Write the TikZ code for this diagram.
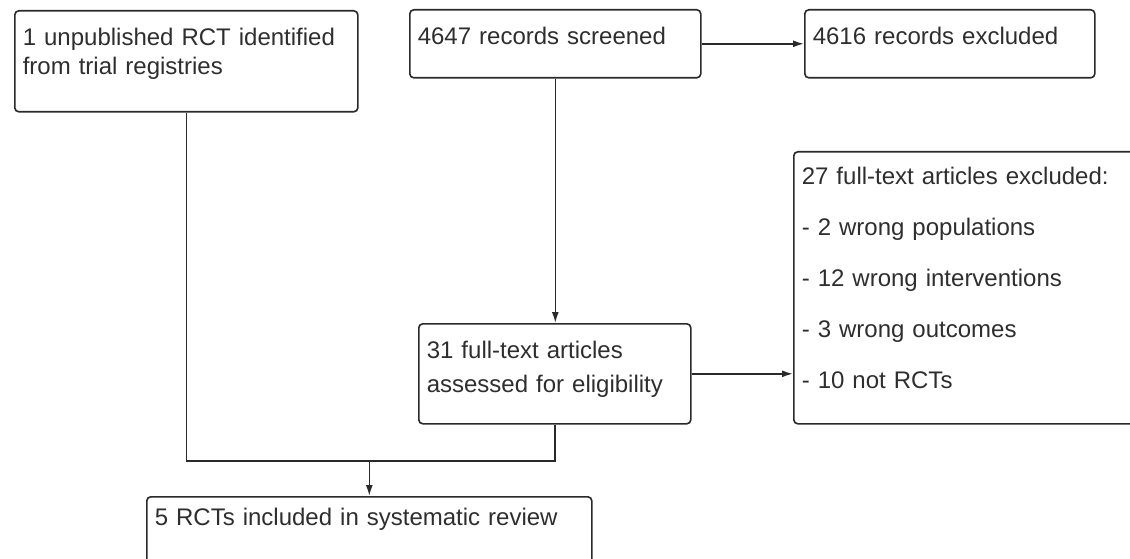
\documentclass[tikz,border=0pt]{standalone}
\usepackage{fontspec}
\setmainfont{Liberation Sans}
\usepackage{tikz}
\usetikzlibrary{arrows.meta,calc}
\definecolor{prline}{HTML}{2A2A2A}
\definecolor{prtext}{HTML}{2E2E2E}
\tikzset{
  box/.style={draw=prline,line width=1.6pt,rounded corners=4pt,anchor=north west,align=left,
    inner xsep=8pt,inner ysep=0pt,text height=35pt,text=prtext,font=\fontsize{24}{29}\selectfont},
  link/.style={draw=prline,line width=1.6pt},
  ar/.style={link,-{Latex[length=11pt,width=7pt]}},
}
\begin{document}
\begin{tikzpicture}[x=1pt,y=-1pt]
  \useasboundingbox (0,0) rectangle (1130,559);
  \clip (0,0) rectangle (1130,559);

  \node[box,text width=327pt,text depth=66pt] (unpub) at (14,10) {1 unpublished RCT identified\\from trial registries};
  \node[box,text width=275pt,text depth=33pt] (screened) at (409,9) {4647 records screened};
  \node[box,text width=274pt,text depth=33pt] (recexcl) at (804,9) {4616 records excluded};
  \node[box,text width=256pt,text depth=65pt,font=\fontsize{24}{34}\selectfont] (fulltext) at (418,323) {31 full-text articles\\assessed for eligibility};
  \node[box,text width=344pt,text height=33pt,text depth=239pt,font=\fontsize{24}{51}\selectfont] (ftexcl) at (793,151)
    {27 full-text articles excluded:\\- 2 wrong populations\\- 12 wrong interventions\\- 3 wrong outcomes\\- 10 not RCTs};
  \node[box,text width=429pt,text height=29pt,text depth=60pt] (included) at (146,496) {5 RCTs included in systematic review};

  \coordinate (merge) at ($(included.north)+(0,-35)$);

  \draw[ar] (screened.east) -- (recexcl.west);
  \draw[ar] (screened.south) -- (screened.south |- fulltext.north);
  \draw[ar] (fulltext.east) -- (fulltext.east -| ftexcl.west);
  \draw[link] (unpub.south) |- (merge) -| (fulltext.south);
  \draw[ar] (merge) -- (included.north);
\end{tikzpicture}
\end{document}
